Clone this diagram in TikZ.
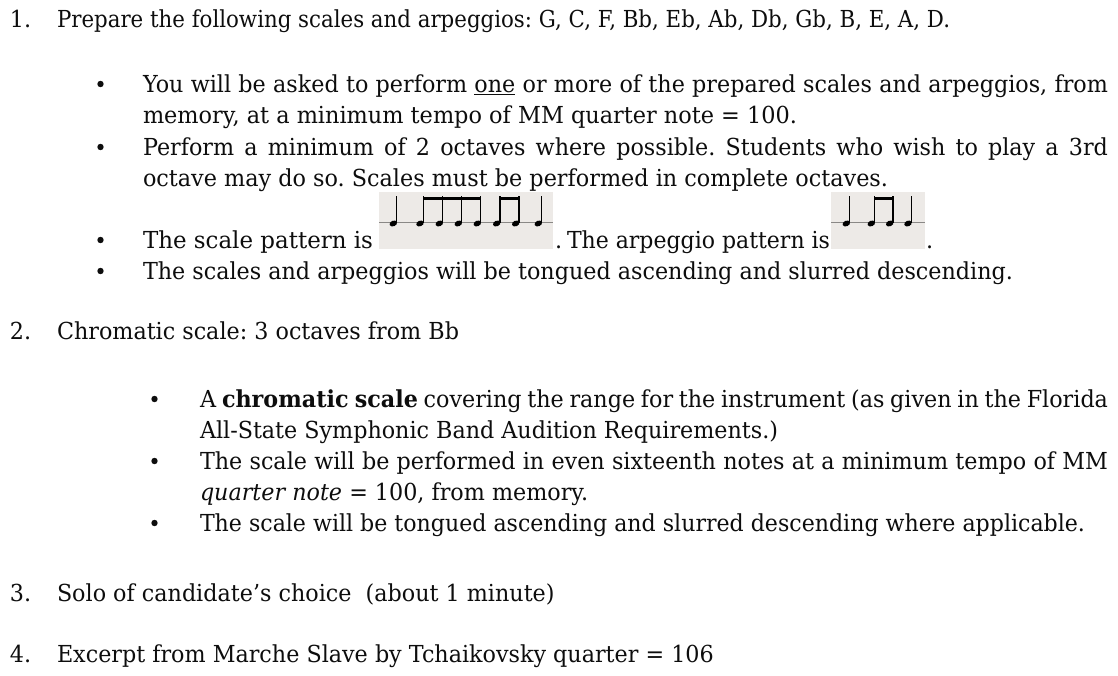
\documentclass[tikz,border=0pt]{standalone}
\usepackage{fontspec}
\usepackage{graphicx}
\setmainfont{DejaVu Serif}
\frenchspacing
\newcommand\txtfont{\fontsize{23.4pt}{28pt}\selectfont\frenchspacing}
\newlength\refw
\settowidth\refw{\txtfont The scales and arpeggios will be tongued ascending and slurred descending.}
\pgfmathsetmacro\sx{870/\refw}
\pgfmathsetmacro\jA{965/\sx}
\pgfmathsetmacro\jB{908/\sx}
\newcommand\hs[1]{\scalebox{\sx}[1]{#1}}
\newcommand\hsj[2]{\scalebox{\sx}[1]{\makebox[#1pt][s]{#2}}}
\newcommand\fitw[2]{\resizebox{#1pt}{\height}{#2}}
\definecolor{imgbg}{HTML}{EDEAE7}
\definecolor{staffgray}{HTML}{8A8886}
\definecolor{ink}{HTML}{0D0D0D}
\tikzset{
 txt/.style={anchor=base west, inner sep=0pt, outer sep=0pt, font=\txtfont, text=ink},
 bul/.style={fill=ink},
 imgbox/.style={fill=imgbg, draw=none},
 staffline/.style={draw=staffgray, line width=0.9pt},
 stemline/.style={draw=black, line width=1.1pt},
 beambar/.style={fill=black},
 headfill/.style={fill=black},
}
\newcommand\nhead[2]{\fill[headfill, rotate around={22:(#1,#2)}] (#1,#2) ellipse [x radius=3.9, y radius=2.8];}
\newcommand\nstem[2]{\draw[stemline] (#1+3.3,#2-0.5) -- (#1+3.3,196);}
\newcommand\noteat[1]{\nhead{#1}{223.5}\nstem{#1}{223.5}}
\begin{document}
\begin{tikzpicture}[x=1pt,y=-1pt]
\useasboundingbox[fill=white] (0,0) rectangle (1118,675);
% ---------- item 1
\node[txt] (n1) at (10,27) {\hs{1.}};
\node[txt] (t1) at (57,27) {\fitw{893}{Prepare the following scales and arpeggios: G, C, F, Bb, Eb, Ab, Db, Gb, B, E, A, D.}};
\fill[bul] (100.5,84) circle[radius=3.2];
\node[txt] (a1) at (143,92) {\hsj{\jA}{You will be asked to perform \underline{one} or more of the prepared scales and arpeggios, from}};
\node[txt] (a2) at (143,123) {\fitw{654}{memory, at a minimum tempo of MM quarter note = 100.}};
\fill[bul] (100.5,147) circle[radius=3.2];
\node[txt] (a3) at (143,155) {\hsj{\jA}{Perform a minimum of 2 octaves where possible. Students who wish to play a 3rd}};
\node[txt] (a4) at (143,186) {\fitw{745}{octave may do so. Scales must be performed in complete octaves.}};
\fill[bul] (100.5,240) circle[radius=3.2];
\node[txt] (a5) at (143,248) {\fitw{230}{The scale pattern is}};
% scale pattern picture
\fill[imgbox] (379,192) rectangle (553,249);
\draw[staffline] (379,222.5) -- (553,222.5);
\foreach \x in {393.3,420,439.3,458.3,477.3,496.7,515.7,538.3} {\noteat{\x}}
\fill[beambar] (420+2.6,196.5) rectangle (477.3+3.9,200.3);
\fill[beambar] (496.7+2.6,196.5) rectangle (515.7+3.9,200.3);
\node[txt] (a5b) at (555,248) {\hs{.}};
\node[txt] (a5c) at (567,248) {\fitw{263}{The arpeggio pattern is}};
% arpeggio pattern picture
\fill[imgbox] (831,192) rectangle (925,249);
\draw[staffline] (831,222.5) -- (925,222.5);
\foreach \x in {846.3,871.3,889.7,908} {\noteat{\x}}
\fill[beambar] (871.3+2.6,196.5) rectangle (889.7+3.9,200.3);
\node[txt] (a5d) at (926,248) {\hs{.}};
\fill[bul] (100.5,271) circle[radius=3.2];
\node[txt] (a6) at (143,279) {\fitw{870}{The scales and arpeggios will be tongued ascending and slurred descending.}};
% ---------- item 2
\node[txt] (n2) at (10,339) {\hs{2.}};
\node[txt] (t2) at (57,339) {\hs{Chromatic scale: 3 octaves from Bb}};
\fill[bul] (154.5,399) circle[radius=3.2];
\node[txt] (b1) at (200,407) {\hsj{\jB}{A \textbf{chromatic scale} covering the range for the instrument (as given in the Florida}};
\node[txt] (b2) at (200,438) {\fitw{578}{All-State Symphonic Band Audition Requirements.)}};
\fill[bul] (154.5,461) circle[radius=3.2];
\node[txt] (b3) at (200,469) {\hsj{\jB}{The scale will be performed in even sixteenth notes at a minimum tempo of MM}};
\node[txt] (b4) at (200,500) {\hs{\textit{quarter note} = 100, from memory.}};
\fill[bul] (154.5,523) circle[radius=3.2];
\node[txt] (b5) at (200,531) {\fitw{885}{The scale will be tongued ascending and slurred descending where applicable.}};
% ---------- item 3
\node[txt] (n3) at (10,601) {\hs{3.}};
\node[txt] (t3) at (57,601) {\hs{Solo of candidate’s choice\ \ (about 1 minute)}};
% ---------- item 4
\node[txt] (n4) at (10,662) {\hs{4.}};
\node[txt] (t4) at (57,662) {\hs{Excerpt from Marche Slave by Tchaikovsky quarter = 106}};
\end{tikzpicture}
\end{document}
